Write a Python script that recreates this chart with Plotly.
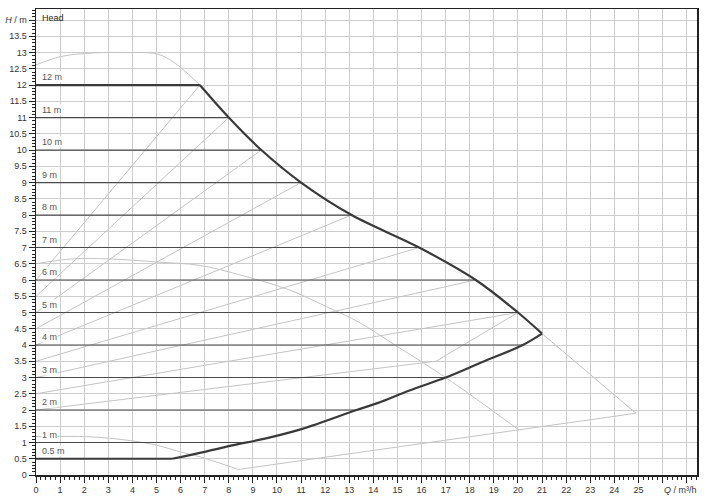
import plotly.graph_objects as go

# ---------------- data ----------------
# maximum-speed curve (left part) and its tail beyond the envelope tip
max_q = [0.0, 1.0, 2.0, 3.7, 5.25, 6.8]
max_h = [12.62, 12.87, 12.97, 13.0, 12.9, 12.0]
max_tail_q = [21.0, 24.9]
max_tail_h = [4.35, 1.9]
# lower limit line
lim_q = [8.4, 24.9]
lim_h = [0.17, 1.9]
# minimum-speed curve
min_q = [0.0, 2.1, 3.05, 4.0, 5.0, 5.95, 6.8, 8.4]
min_h = [1.18, 1.18, 1.13, 1.05, 0.92, 0.72, 0.56, 0.17]
# intermediate curve
mid_q = [0.0, 1.5, 3.0, 5.1, 6.8, 8.5, 10.5, 12.0, 13.4, 15.0, 17.0, 20.05]
mid_h = [6.5, 6.65, 6.65, 6.55, 6.45, 6.15, 5.7, 5.2, 4.7, 3.95, 3.0, 1.38]
# operating-range envelope
env_top_q = [0.0, 6.8]
env_top_h = [12.0, 12.0]
env_up_q = [6.8, 8.0, 9.35, 11.0, 13.1, 15.9, 18.25, 20.0, 21.0]
env_up_h = [12.0, 11.0, 10.0, 9.0, 8.0, 7.0, 6.0, 5.0, 4.35]
env_low_q = [21.0, 20.2, 18.5, 17.0, 15.5, 14.2, 13.3, 11.05, 9.5, 8.2, 7.05, 5.65]
env_low_h = [4.35, 4.0, 3.47, 3.0, 2.6, 2.22, 2.0, 1.42, 1.12, 0.92, 0.72, 0.5]
env_bot_q = [0.0, 5.65]
env_bot_h = [0.5, 0.5]
# constant-pressure lines (head, end flow)
dpc_h = [11, 10, 9, 8, 7, 6, 5, 4, 3, 2, 1]
dpc_qend = [8.0, 9.35, 11.0, 13.1, 15.9, 18.25, 20.0, 20.2, 17.0, 13.3, 8.55]
# variable-pressure lines (start head at Q=0, end point)
dpv_h0 = [6.0, 5.5, 5.0, 4.5, 4.0, 3.5, 3.0, 2.5]
dpv_qend = [6.8, 8.0, 9.35, 11.0, 13.1, 15.9, 18.25, 20.0]
dpv_hend = [12.0, 11.0, 10.0, 9.0, 8.0, 7.0, 6.0, 5.0]
dpv4_q = [0.0, 16.6, 20.0]
dpv4_h = [2.0, 3.5, 5.0]
# setting labels
lbl_h = [12, 11, 10, 9, 8, 7, 6, 5, 4, 3, 2, 1, 0.5]
lbl_txt = ["12 m", "11 m", "10 m", "9 m", "8 m", "7 m", "6 m", "5 m",
           "4 m", "3 m", "2 m", "1 m", "0.5 m"]
# axis ticks
x_ticks = list(range(0, 28))
x_labels = [str(v) for v in range(0, 26)] + ["", ""]
y_ticks = [i * 0.5 for i in range(0, 29)]
y_labels = [("%g" % v) for v in y_ticks[:-1]] + ["<i>H</i> / m"]

LIGHT = "#c4c4c4"
DARK = "#3a3a3a"
FONT = "Liberation Sans, Arial, sans-serif"

fig = go.Figure()

def add(q, h, color, width, shape="linear"):
    fig.add_trace(go.Scatter(x=q, y=h, mode="lines",
                             line=dict(color=color, width=width, shape=shape),
                             hoverinfo="skip"))

# light curves
add(max_q, max_h, LIGHT, 1, "spline")
add(max_tail_q, max_tail_h, LIGHT, 1)
add(lim_q, lim_h, LIGHT, 1)
add(min_q, min_h, LIGHT, 1, "spline")
add(mid_q, mid_h, LIGHT, 1, "spline")
for h0, qe, he in zip(dpv_h0, dpv_qend, dpv_hend):
    add([0.0, qe], [h0, he], LIGHT, 1)
add(dpv4_q, dpv4_h, LIGHT, 1)

# constant-pressure lines
for h, qe in zip(dpc_h, dpc_qend):
    add([0.0, qe], [h, h], "#4a4a4a", 1.2)

# envelope
add(env_top_q, env_top_h, DARK, 2.2)
add(env_up_q, env_up_h, DARK, 2.2, "spline")
add(env_low_q, env_low_h, DARK, 2.2, "spline")
add(env_bot_q, env_bot_h, DARK, 2.2)

annotations = []
for h, t in zip(lbl_h, lbl_txt):
    annotations.append(dict(x=0.22, y=h, xref="x", yref="y", text=t,
                            showarrow=False, xanchor="left", yanchor="bottom",
                            yshift=2, font=dict(family=FONT, size=9, color="#555"),
                            bgcolor="white", borderpad=0))
annotations.append(dict(x=0.15, y=14.05, xref="x", yref="y", text="Head",
                        showarrow=False, xanchor="left", yanchor="middle",
                        font=dict(family=FONT, size=9, color="#222")))
annotations.append(dict(x=1.0, y=0, xref="paper", yref="paper",
                        text="<i>Q</i> / m³/h", showarrow=False,
                        xanchor="right", yanchor="top", yshift=-8, xshift=2,
                        font=dict(family=FONT, size=9, color="#333")))

fig.update_layout(
    width=704, height=500,
    margin=dict(l=36, r=7, t=9, b=25, autoexpand=False),
    paper_bgcolor="white", plot_bgcolor="white",
    showlegend=False,
    font=dict(family=FONT, size=9, color="#333"),
    annotations=annotations,
    xaxis=dict(range=[0, 27.43], tickmode="array", tickvals=x_ticks,
               ticktext=x_labels, showgrid=True, gridcolor="#cdcdcd",
               gridwidth=1, zeroline=False, showline=True, linecolor="#222",
               linewidth=1.5, mirror=True, ticks="outside", ticklen=6,
               tickcolor="#222", tickwidth=1, automargin=False,
               minor=dict(dtick=0.2, tick0=0, ticks="outside", ticklen=3,
                          tickcolor="#222", showgrid=False)),
    yaxis=dict(range=[0, 14.34], tickmode="array", tickvals=y_ticks,
               ticktext=y_labels, showgrid=True, gridcolor="#cdcdcd",
               gridwidth=1, zeroline=False, showline=True, linecolor="#222",
               linewidth=1.5, mirror=True, ticks="outside", ticklen=6,
               tickcolor="#222", tickwidth=1, automargin=False,
               minor=dict(dtick=0.1, tick0=0, ticks="outside", ticklen=3,
                          tickcolor="#222", showgrid=False)),
)

fig.write_html("out.html",
               config={"displayModeBar": False, "staticPlot": True},
               post_script="document.body.style.margin='0';"
                           "document.body.style.overflow='hidden';")
